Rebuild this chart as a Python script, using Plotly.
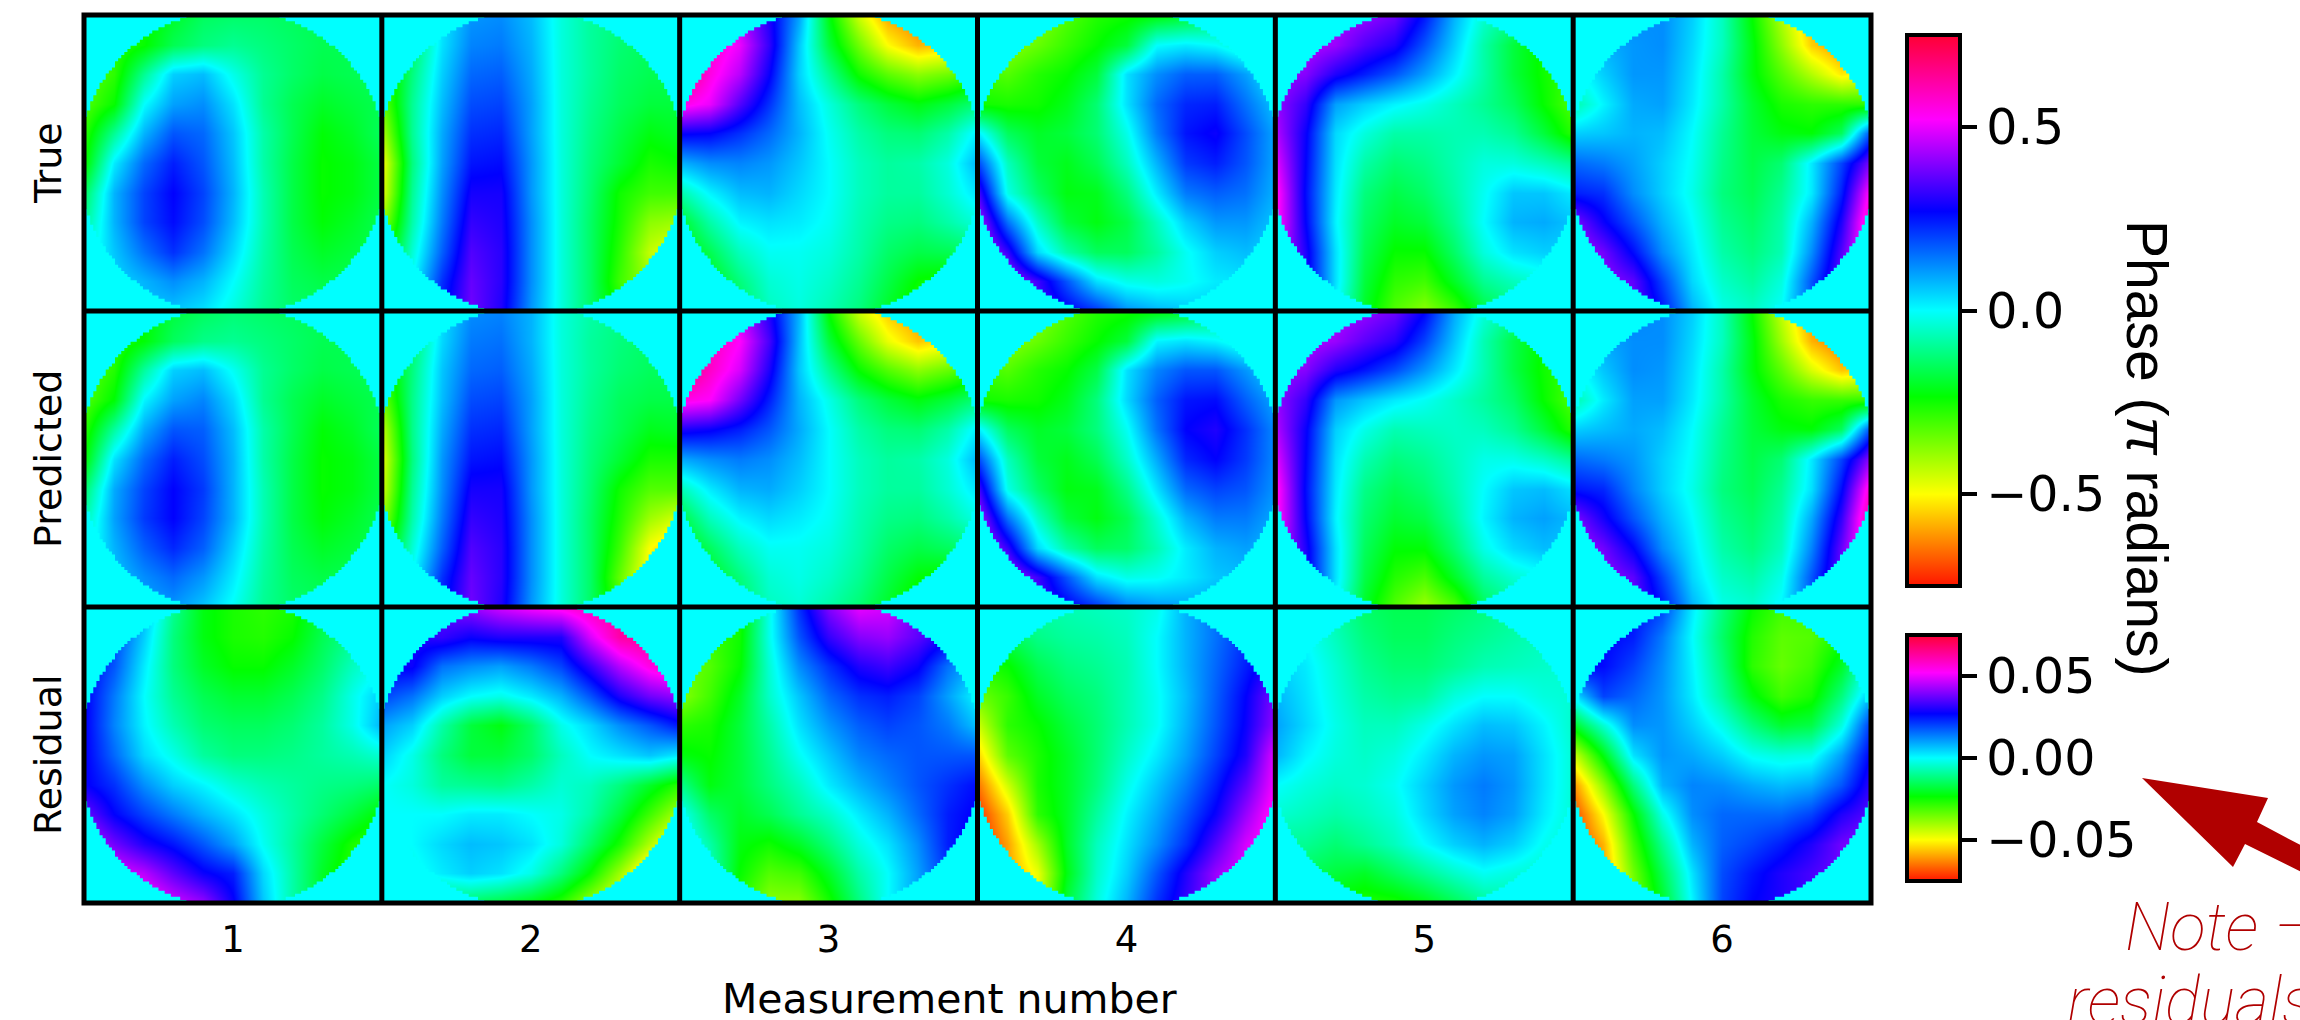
import numpy as np
import plotly.graph_objects as go

W, H = 2300, 1020
measurements = ["1", "2", "3", "4", "5", "6"]
row_names = ["True", "Predicted", "Residual"]
phase_ticks = [-0.5, 0.0, 0.5]
resid_ticks = [-0.05, 0.0, 0.05]

# Values on an 11 x 11 sample grid, top row first.
# Phase rows: hundredths of a pi radian. Residual rows: thousandths of a pi radian.
true_1 = [
[-30,-28,-25,-20,-15,-14,-14,-15,-16,-16,-16],
[-30,-28,-24,-16,-12,-10,-12,-14,-16,-16,-16],
[-34,-28,-10,5,7,-2,-10,-14,-17,-16,-15],
[-32,-24,0,10,12,3,-10,-16,-20,-18,-16],
[-28,-10,8,18,16,6,-8,-16,-23,-20,-15],
[-25,2,16,24,18,7,-8,-17,-24,-22,-17],
[-15,8,20,27,20,8,-7,-17,-24,-22,-17],
[-10,8,20,26,19,7,-7,-17,-23,-20,-16],
[-5,6,15,22,15,4,-8,-16,-20,-18,-16],
[0,4,8,12,8,0,-9,-15,-17,-16,-15],
[0,4,6,6,3,-3,-10,-14,-15,-15,-15]]
true_2 = [
[-25,-15,2,11,12,7,-3,-9,-12,-14,-14],
[-30,-15,3,13,14,8,-3,-9,-13,-15,-15],
[-32,-12,5,16,17,9,-3,-9,-14,-16,-16],
[-35,-10,7,19,20,10,-3,-10,-15,-18,-18],
[-42,-10,9,22,23,10,-3,-11,-17,-22,-20],
[-50,-12,10,25,26,11,-3,-12,-19,-26,-24],
[-48,-10,12,29,29,11,-3,-13,-25,-30,-30],
[-40,-8,14,32,30,12,-3,-14,-26,-38,-40],
[-30,-4,17,35,31,12,-3,-14,-28,-44,-50],
[-20,0,22,37,31,12,-3,-14,-30,-40,-50],
[0,10,25,38,30,11,-3,-14,-26,-35,-40]]
true_3 = [
[60,55,45,30,10,-22,-45,-60,-65,-60,-55],
[65,58,50,32,6,-18,-35,-50,-58,-55,-50],
[70,55,45,28,5,-10,-25,-33,-38,-35,-30],
[55,50,35,22,7,-3,-12,-18,-22,-18,-12],
[28,27,22,16,8,-1,-8,-12,-13,-8,2],
[8,12,13,11,6,0,-6,-9,-8,-3,8],
[-8,1,7,8,4,0,-6,-9,-9,-4,3],
[-20,-8,1,3,2,-1,-7,-11,-12,-8,-3],
[-25,-16,-6,-1,-1,-3,-8,-14,-17,-16,-14],
[-28,-22,-12,-4,-2,-5,-10,-17,-24,-26,-26],
[-30,-25,-16,-6,-3,-7,-12,-20,-28,-30,-30]]
true_4 = [
[-45,-40,-38,-32,-27,-25,-23,-20,-15,-12,-10],
[-45,-38,-34,-29,-24,-18,0,2,0,-6,-8],
[-30,-32,-27,-24,-18,3,12,17,17,10,0],
[-25,-26,-25,-21,-13,3,16,23,24,15,6],
[2,-15,-20,-18,-13,-2,14,25,28,19,9],
[20,-6,-18,-21,-16,-6,8,21,24,18,9],
[35,-2,-14,-22,-21,-12,2,14,17,15,8],
[45,15,-5,-18,-22,-17,-6,5,11,11,6],
[50,32,4,-8,-15,-15,-9,-1,5,7,4],
[50,45,33,18,3,-2,-3,-1,2,3,3],
[50,40,35,28,22,12,8,6,5,5,5]]
true_5 = [
[45,45,45,42,38,25,8,-4,-10,-18,-25],
[45,45,42,35,30,18,5,-8,-18,-25,-30],
[43,40,30,24,18,10,1,-8,-18,-25,-30],
[42,32,10,5,1,-2,-6,-10,-15,-24,-32],
[45,28,4,-3,-8,-8,-7,-7,-10,-18,-28],
[50,27,3,-8,-13,-11,-7,-3,-3,-6,-10],
[55,26,2,-12,-17,-14,-8,-1,6,6,2],
[55,27,1,-14,-20,-18,-10,0,8,9,6],
[50,30,3,-16,-24,-24,-14,-3,3,5,5],
[40,30,3,-18,-28,-30,-20,-10,-6,-3,0],
[35,28,0,-20,-32,-38,-30,-18,-12,-8,-5]]
true_6 = [
[8,10,12,12,5,-6,-24,-42,-58,-60,-60],
[4,8,11,12,4,-6,-22,-38,-55,-62,-62],
[-2,5,11,11,3,-8,-22,-32,-42,-52,-48],
[-8,1,9,10,2,-8,-19,-26,-28,-28,-28],
[5,6,8,7,0,-10,-18,-22,-23,-15,20],
[16,14,10,5,-1,-11,-17,-13,2,20,40],
[24,22,12,5,-2,-12,-16,-10,2,24,55],
[40,28,18,8,0,-10,-14,-8,8,30,62],
[45,38,26,12,2,-8,-12,-7,12,35,60],
[48,42,36,20,4,-5,-9,-3,18,38,50],
[48,44,38,25,8,-2,-5,0,18,35,45]]

pred_1 = [
[-28,-26,-24,-18,-15,-13,-14,-15,-16,-16,-16],
[-30,-28,-23,-15,-11,-10,-12,-14,-16,-16,-16],
[-34,-27,-9,5,7,-1,-10,-14,-17,-16,-15],
[-32,-23,1,10,13,4,-10,-16,-20,-18,-16],
[-28,-9,9,18,17,7,-8,-16,-23,-20,-15],
[-24,3,16,24,19,8,-8,-17,-24,-22,-17],
[-14,9,20,27,21,8,-7,-17,-24,-22,-17],
[-8,10,21,27,20,8,-7,-17,-23,-20,-16],
[-4,8,17,23,17,5,-8,-16,-20,-18,-16],
[0,6,12,16,11,2,-9,-15,-17,-16,-15],
[0,6,9,11,6,-1,-10,-14,-15,-15,-15]]
pred_2 = [
[-22,-14,3,12,13,8,-3,-8,-11,-13,-13],
[-28,-14,4,14,15,8,-3,-9,-12,-14,-14],
[-30,-12,6,16,17,9,-3,-9,-13,-15,-15],
[-36,-11,7,19,20,10,-3,-10,-15,-17,-17],
[-44,-11,9,22,23,10,-3,-11,-16,-21,-20],
[-48,-12,11,25,26,11,-3,-12,-19,-26,-26],
[-46,-10,12,29,29,11,-3,-13,-25,-32,-32],
[-40,-8,14,32,30,12,-3,-14,-27,-40,-46],
[-30,-4,17,35,31,12,-3,-14,-30,-50,-58],
[-20,0,22,37,31,12,-3,-14,-34,-52,-60],
[0,10,25,38,30,11,-3,-14,-30,-45,-55]]
pred_3 = [
[62,56,46,30,8,-24,-45,-56,-62,-58,-52],
[66,60,52,34,7,-18,-34,-48,-56,-52,-48],
[70,58,48,30,6,-10,-24,-32,-38,-34,-28],
[55,52,38,24,8,-2,-12,-18,-22,-18,-12],
[30,28,24,18,9,0,-8,-12,-13,-8,2],
[9,12,14,12,7,0,-6,-9,-8,-3,8],
[-7,2,8,9,5,0,-6,-9,-9,-4,3],
[-18,-6,1,4,2,-1,-7,-11,-12,-8,-2],
[-24,-15,-6,-1,-1,-3,-8,-14,-17,-15,-12],
[-27,-21,-12,-4,-2,-5,-10,-17,-23,-25,-24],
[-28,-24,-15,-6,-4,-8,-13,-20,-28,-30,-30]]
pred_4 = [
[-45,-40,-38,-32,-27,-25,-23,-20,-15,-12,-8],
[-45,-38,-34,-29,-24,-18,1,3,1,-4,-6],
[-30,-32,-27,-24,-17,3,13,18,18,11,3],
[-25,-26,-25,-21,-12,4,17,25,26,17,9],
[2,-15,-20,-18,-12,-1,15,27,30,22,12],
[20,-6,-18,-21,-16,-5,9,23,27,21,12],
[35,-2,-14,-22,-21,-11,3,16,20,18,11],
[45,15,-5,-18,-22,-16,-4,8,14,14,9],
[50,32,4,-8,-15,-14,-7,2,8,10,7],
[50,45,33,18,3,-2,-1,2,6,7,6],
[50,40,35,28,22,14,11,10,9,9,9]]
pred_5 = [
[45,45,45,42,38,27,9,-3,-10,-18,-25],
[45,45,42,36,31,20,6,-7,-17,-24,-30],
[43,40,30,25,19,11,2,-7,-17,-25,-30],
[42,32,11,6,2,-1,-5,-9,-14,-24,-32],
[45,28,5,-2,-7,-6,-5,-6,-10,-18,-28],
[50,27,3,-7,-12,-10,-6,-2,-2,-5,-10],
[55,26,2,-11,-16,-13,-7,0,6,7,3],
[55,27,1,-13,-19,-17,-9,1,8,10,7],
[50,30,3,-15,-23,-23,-13,-2,4,7,6],
[40,30,3,-17,-27,-31,-20,-9,-4,-1,2],
[35,28,0,-20,-32,-40,-32,-16,-10,-6,-3]]
pred_6 = [
[9,11,13,12,5,-6,-24,-44,-62,-64,-64],
[5,9,12,12,4,-6,-22,-40,-58,-65,-65],
[-2,6,12,11,3,-8,-22,-33,-46,-56,-52],
[-8,2,10,10,2,-8,-19,-26,-29,-29,-28],
[5,7,9,7,0,-10,-18,-22,-23,-15,20],
[16,14,11,5,-1,-11,-17,-13,2,20,42],
[25,23,13,5,-2,-12,-16,-10,3,26,58],
[40,29,18,8,0,-10,-14,-8,9,32,65],
[45,38,27,12,2,-8,-12,-6,13,37,62],
[48,42,36,20,4,-5,-8,-2,18,38,50],
[48,44,38,25,8,-2,-4,1,18,35,45]]

resid_1 = [
[10,12,8,-10,-22,-26,-28,-26,-18,-12,-8],
[25,20,5,-12,-22,-26,-27,-24,-16,-10,-6],
[28,18,2,-12,-20,-24,-24,-20,-14,-6,0],
[28,14,0,-10,-16,-19,-19,-16,-11,-2,6],
[28,13,1,-7,-13,-15,-15,-13,-9,-2,8],
[28,16,4,-2,-9,-12,-12,-11,-9,-7,-4],
[28,22,12,5,1,-4,-7,-9,-11,-12,-14],
[38,27,20,14,8,3,-3,-8,-13,-18,-24],
[48,38,30,25,18,10,-1,-9,-18,-26,-30],
[55,50,45,36,28,24,4,-8,-20,-28,-32],
[60,55,55,48,42,28,6,-8,-20,-28,-32]]
resid_2 = [
[30,35,38,42,48,52,55,60,65,65,65],
[30,30,32,28,30,30,30,48,62,65,65],
[28,28,15,12,10,14,20,32,45,55,60],
[20,15,5,0,-2,2,8,18,30,38,42],
[10,5,-8,-18,-22,-14,-2,4,12,18,25],
[5,-2,-12,-18,-18,-14,-6,0,3,6,2],
[0,-3,-9,-10,-11,-8,-4,-6,-12,-20,-28],
[0,0,0,2,2,0,-2,-8,-18,-30,-42],
[0,0,4,7,6,3,-3,-14,-26,-42,-55],
[0,-2,2,5,3,-2,-12,-24,-40,-58,-65],
[-5,-10,-14,-15,-18,-22,-28,-40,-50,-60,-65]]
resid_3 = [
[-30,-30,-26,-2,22,40,50,48,38,30,25],
[-32,-30,-25,-2,18,32,40,42,36,28,18],
[-36,-32,-24,-4,12,22,30,33,28,15,6],
[-38,-30,-20,-5,6,16,22,24,20,10,0],
[-28,-26,-18,-8,3,11,17,20,18,14,6],
[-22,-24,-18,-10,-1,6,13,16,18,18,18],
[-10,-22,-18,-12,-6,2,8,13,18,22,26],
[0,-14,-20,-16,-10,-5,2,8,16,24,28],
[3,-8,-22,-25,-20,-12,-3,3,12,24,30],
[3,-5,-24,-32,-30,-20,-8,0,10,22,30],
[3,-5,-28,-38,-38,-26,-12,0,10,22,30]]
resid_4 = [
[-10,-10,-8,-7,-6,-5,-2,8,15,22,28],
[-20,-16,-11,-9,-8,-6,0,8,15,22,30],
[-28,-24,-16,-12,-10,-7,0,8,16,24,32],
[-35,-29,-20,-15,-12,-7,-1,7,17,27,40],
[-45,-28,-24,-18,-13,-7,-1,8,18,28,42],
[-55,-33,-26,-20,-13,-5,2,10,20,30,50],
[-65,-45,-26,-20,-12,-2,6,14,24,36,52],
[-72,-55,-28,-20,-9,1,9,18,28,42,55],
[-75,-60,-40,-20,-6,3,12,22,35,48,55],
[-70,-60,-48,-22,-5,5,18,30,42,50,55],
[-65,-55,-48,-18,-3,8,22,32,42,50,55]]
resid_5 = [
[0,-3,-8,-14,-16,-16,-14,-12,-10,-8,-6],
[2,0,-6,-12,-15,-15,-12,-10,-8,-6,-5],
[5,2,-4,-10,-13,-13,-10,-7,-6,-5,-4],
[8,3,-3,-8,-10,-9,-3,0,0,-3,-4],
[10,4,-2,-6,-6,-2,3,7,6,1,-5],
[8,1,-3,-5,-3,2,8,11,10,3,-4],
[0,-3,-5,-4,-1,5,11,14,11,3,-4],
[-4,-6,-8,-6,-3,4,10,13,10,2,-4],
[-10,-10,-13,-10,-6,0,5,8,5,-1,-5],
[-15,-15,-18,-20,-15,-10,-5,-1,-3,-5,-6],
[-18,-20,-24,-27,-26,-22,-16,-10,-8,-8,-8]]
resid_6 = [
[22,24,26,20,2,-12,-24,-30,-30,-26,-22],
[26,27,24,14,0,-14,-27,-33,-32,-26,-18],
[28,26,20,12,1,-12,-28,-34,-30,-20,0],
[2,20,16,11,2,-9,-22,-30,-26,-12,8],
[-20,-4,12,11,5,-2,-12,-19,-17,-3,22],
[-45,-22,3,11,9,5,-1,-3,-2,10,28],
[-62,-38,-12,8,13,12,9,7,9,18,32],
[-70,-50,-24,-2,12,16,16,16,20,30,36],
[-72,-58,-30,-10,8,17,20,24,30,38,42],
[-72,-60,-35,-16,3,19,25,30,34,38,42],
[-70,-60,-38,-20,1,20,27,30,34,38,42]]

rows = [
    ([true_1, true_2, true_3, true_4, true_5, true_6], 100.0, "coloraxis"),
    ([pred_1, pred_2, pred_3, pred_4, pred_5, pred_6], 100.0, "coloraxis"),
    ([resid_1, resid_2, resid_3, resid_4, resid_5, resid_6], 1000.0, "coloraxis2"),
]

# Layout in reference pixels
LEFT, RIGHT, TOP, BOTTOM = 84.0, 1871.0, 15.0, 903.0
NC, NR = 6, 3
CW, CH = (RIGHT - LEFT) / NC, (BOTTOM - TOP) / NR
FRAME = 5
CYAN = "#00ffff"
DARKRED = "#b00000"
px = lambda v: v / W
py = lambda v: 1 - v / H

SCALE_STOPS = [(-0.75, "#ff1400"), (-0.5, "#ffff00"), (-0.235, "#00ff00"), (0.0, "#00ffff"),
               (0.27, "#0000ff"), (0.52, "#ff00ff"), (0.75, "#ff0032")]
colorscale = [[(v + 0.75) / 1.5, c] for v, c in SCALE_STOPS]


def stair_disk_path():
    """Cyan surround with a pixel-stepped round aperture, in axis units -1..1."""
    n = 96
    radius = 1.035
    edges = np.linspace(-1, 1, n + 1)
    centers = (edges[:-1] + edges[1:]) / 2
    halves = np.round(np.sqrt(np.maximum(radius**2 - centers**2, 0)) * n / 2) * 2 / n
    halves = np.minimum(halves, 1.0)
    pts = []
    for k in range(n):
        pts += [(halves[k], edges[k]), (halves[k], edges[k + 1])]
    for k in range(n - 1, -1, -1):
        pts += [(-halves[k], edges[k + 1]), (-halves[k], edges[k])]
    hole = "M" + " L".join(f"{a:.4f},{b:.4f}" for a, b in pts) + " Z"
    return "M-1.02,-1.02 L1.02,-1.02 L1.02,1.02 L-1.02,1.02 Z " + hole


fig = go.Figure()
layout = dict(
    width=W, height=H, margin=dict(l=0, r=0, t=0, b=0, autoexpand=False),
    paper_bgcolor="white", plot_bgcolor=CYAN, showlegend=False,
)
shapes, annotations = [], []
mask = stair_disk_path()
grid = np.linspace(-1, 1, 11)

for r, (panels, divisor, cax) in enumerate(rows):
    for c, values in enumerate(panels):
        idx = r * NC + c + 1
        suffix = "" if idx == 1 else str(idx)
        fig.add_trace(go.Heatmap(
            z=np.array(values, dtype=float) / divisor, x=grid, y=grid,
            coloraxis=cax, zsmooth="best", hoverinfo="skip",
            xaxis="x" + suffix, yaxis="y" + suffix,
        ))
        xaxis = dict(
            domain=[px(LEFT + c * CW), px(LEFT + (c + 1) * CW)], range=[-1, 1],
            anchor="y" + suffix, showgrid=False, zeroline=False, showline=False, fixedrange=True,
        )
        if r == NR - 1:
            xaxis.update(tickmode="array", tickvals=[0], ticktext=[measurements[c]],
                         ticks="outside", ticklen=4, tickcolor="rgba(0,0,0,0)",
                         tickfont=dict(family="DejaVu Sans", size=37, color="black"))
        else:
            xaxis.update(showticklabels=False, ticks="")
        layout["xaxis" + suffix] = xaxis
        layout["yaxis" + suffix] = dict(
            domain=[py(TOP + (r + 1) * CH), py(TOP + r * CH)], range=[1, -1],
            anchor="x" + suffix, showgrid=False, zeroline=False, showline=False,
            showticklabels=False, ticks="", fixedrange=True,
        )
        shapes.append(dict(type="path", path=mask, xref="x" + suffix, yref="y" + suffix,
                           fillcolor=CYAN, line=dict(width=0), layer="above", fillrule="evenodd"))

# Panel frame lines
for c in range(1, NC):
    shapes.append(dict(type="line", xref="paper", yref="paper", x0=px(LEFT + c * CW), x1=px(LEFT + c * CW),
                       y0=py(BOTTOM), y1=py(TOP), line=dict(color="black", width=FRAME)))
for r in range(1, NR):
    shapes.append(dict(type="line", xref="paper", yref="paper", x0=px(LEFT), x1=px(RIGHT),
                       y0=py(TOP + r * CH), y1=py(TOP + r * CH), line=dict(color="black", width=FRAME)))
shapes.append(dict(type="rect", xref="paper", yref="paper", x0=px(LEFT), x1=px(RIGHT),
                   y0=py(BOTTOM), y1=py(TOP), line=dict(color="black", width=FRAME)))

# Red arrow
arrow_px = [(2142, 778), (2268, 798), (2257, 822), (2340, 866), (2340, 891), (2245, 844), (2233, 867)]
arrow_path = "M" + " L".join(f"{px(a):.5f},{py(b):.5f}" for a, b in arrow_px) + " Z"
shapes.append(dict(type="path", path=arrow_path, xref="paper", yref="paper",
                   fillcolor=DARKRED, line=dict(width=0)))


def label(text, x, y, size, family="DejaVu Sans", angle=0, color="black", xanchor="center", **font):
    annotations.append(dict(
        text=text, x=px(x), y=py(y), xref="paper", yref="paper", showarrow=False,
        xanchor=xanchor, yanchor="middle", textangle=angle,
        font=dict(family=family, size=size, color=color, **font),
    ))


for r, name in enumerate(row_names):
    label(name, 48, TOP + (r + 0.5) * CH, 38, angle=-90)
label("Measurement number", 949, 999, 41)
label("Phase (<i>π</i> radians)", 2147, 448, 57, family="Liberation Sans", angle=90)
label("Note –", 2123, 927, 66, family="Roboto", color=DARKRED, xanchor="left", style="italic", weight=100)
label("residuals", 2065, 1001, 66, family="Roboto", color=DARKRED, xanchor="left", style="italic", weight=100)


def colorbar(top, bottom, ticks, fmt):
    return dict(
        x=px(1907), xanchor="left", xpad=0, ypad=0,
        y=py((top + bottom) / 2), yanchor="middle",
        len=bottom - top, lenmode="pixels", thickness=53, thicknessmode="pixels",
        outlinecolor="black", outlinewidth=4, borderwidth=0,
        tickmode="array", tickvals=ticks, tickformat=fmt, tickprefix="\u2009",
        ticks="outside", ticklen=15, tickwidth=4, tickcolor="black",
        tickfont=dict(family="DejaVu Sans", size=49, color="black"),
    )


layout["coloraxis"] = dict(colorscale=colorscale, cmin=-0.75, cmax=0.75,
                           colorbar=colorbar(35, 586, phase_ticks, ".1f"))
layout["coloraxis2"] = dict(colorscale=colorscale, cmin=-0.075, cmax=0.075,
                            colorbar=colorbar(635, 881, resid_ticks, ".2f"))
layout["shapes"] = shapes
layout["annotations"] = annotations
fig.update_layout(**layout)

fig.write_html(
    "out.html",
    config={"displayModeBar": False},
    post_script="document.body.style.margin='0';document.documentElement.style.overflow='hidden';",
)
